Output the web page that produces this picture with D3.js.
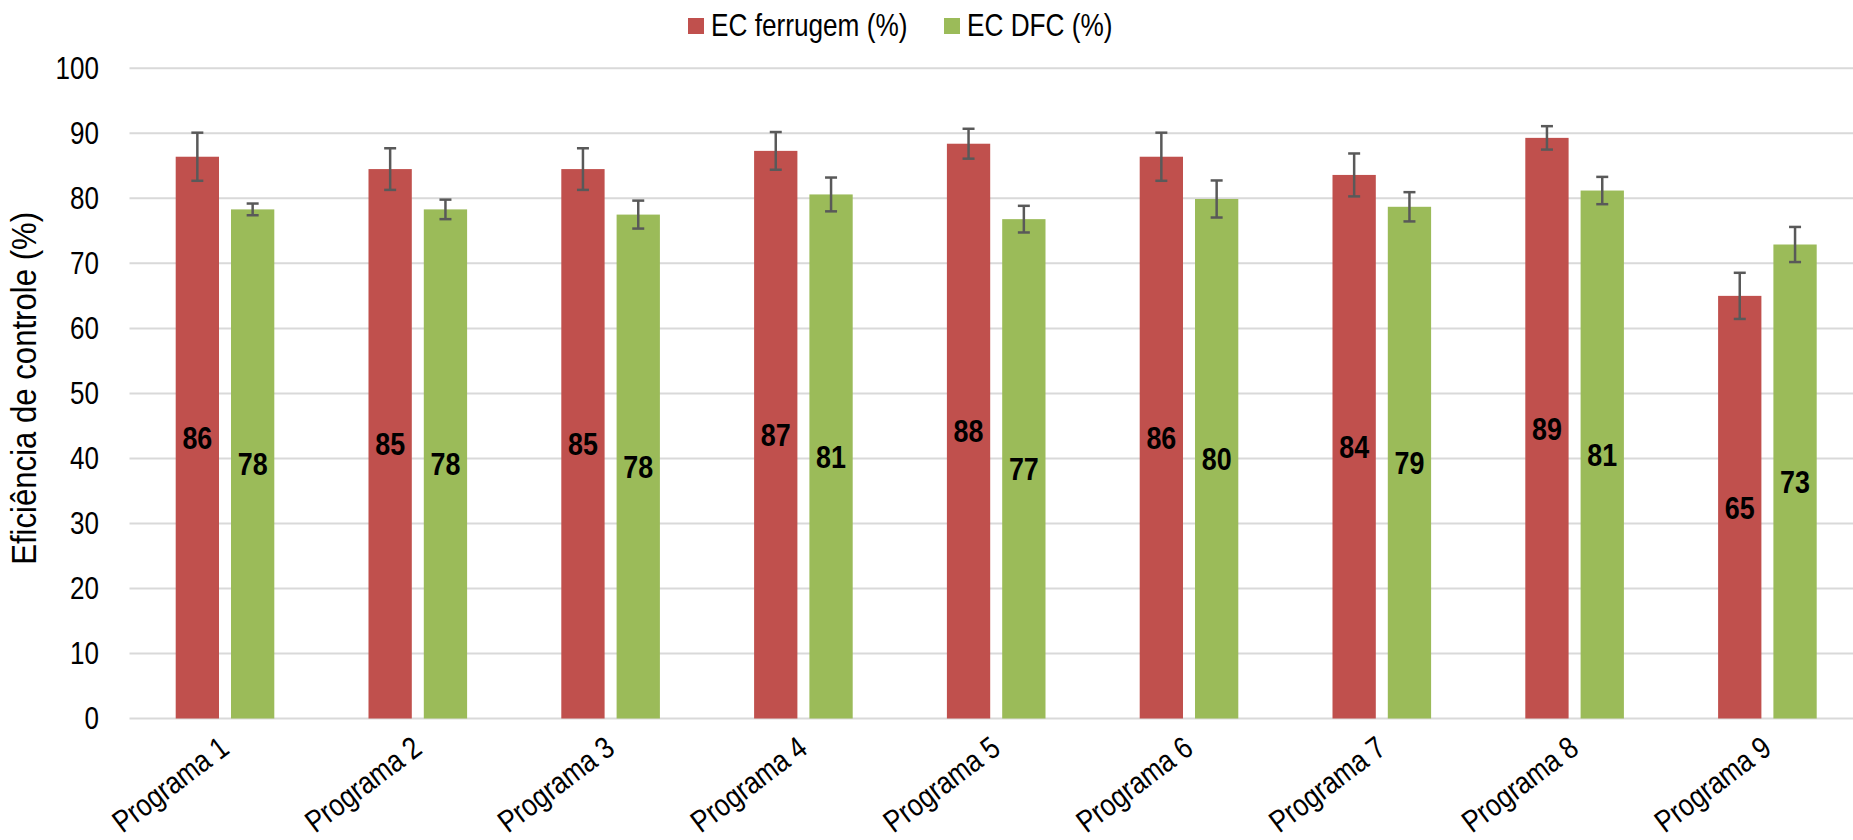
<!DOCTYPE html>
<html><head><meta charset="utf-8">
<script src="https://cdn.jsdelivr.net/npm/d3@7"></script>
<style>
html,body{margin:0;padding:0;background:#fff;}
svg{display:block;}
text{font-family:'Liberation Sans',Arial,sans-serif;fill:#000;}
</style></head>
<body>
<svg id="chart" width="1853" height="840"></svg>
<script>
const categories = ["Programa 1","Programa 2","Programa 3","Programa 4","Programa 5","Programa 6","Programa 7","Programa 8","Programa 9"];
const seriesNames = ["EC ferrugem (%)","EC DFC (%)"];
const ferrugem = [86.4, 84.5, 84.5, 87.3, 88.4, 86.4, 83.6, 89.3, 65.0];
const dfc = [78.3, 78.3, 77.5, 80.6, 76.8, 79.9, 78.7, 81.2, 72.9];
const ferrugemErr = [3.7, 3.2, 3.2, 2.9, 2.3, 3.7, 3.3, 1.8, 3.55];
const dfcErr = [0.9, 1.5, 2.15, 2.6, 2.05, 2.85, 2.25, 2.1, 2.7];
const yTicks = [0,10,20,30,40,50,60,70,80,90,100];
const yTitle = "Eficiência de controle (%)";

const colors = ["#C0504D","#9BBB59"];
const NARROW = 0.84; // horizontal compression to mimic a narrow face
const svg = d3.select("#chart");
const W = 1853, H = 840;
const plotLeft = 129.5, plotTop = 68.3, plotBottom = 718.5;

const x0 = d3.scaleBand().domain(categories).range([128.6, 128.6 + 9*192.8]).padding(0);
const x1 = d3.scaleBand().domain(seriesNames).range([-49.3, 49.3]).paddingInner(0.217).paddingOuter(0);
const y = d3.scaleLinear().domain([0,100]).range([plotBottom, plotTop]);

// gridlines
svg.append("g").selectAll("line").data(yTicks).join("line")
  .attr("x1", plotLeft).attr("x2", W)
  .attr("y1", d=>y(d)).attr("y2", d=>y(d))
  .attr("stroke","#d9d9d9").attr("stroke-width",2);

// y tick labels
svg.append("g").selectAll("text").data(yTicks).join("text")
  .attr("transform", d=>`translate(99,${y(d)}) scale(${NARROW},1)`)
  .attr("text-anchor","end").attr("dominant-baseline","central")
  .attr("font-size",31).text(d=>d);

// y title
svg.append("text")
  .attr("transform", `translate(36,${(plotTop+plotBottom)/2 - 5}) rotate(-90) scale(0.865,1)`)
  .attr("text-anchor","middle").attr("font-size",36).text(yTitle);

const data = categories.map((c,i)=>({cat:c, vals:[
  {s:seriesNames[0], v:ferrugem[i], e:ferrugemErr[i], k:0},
  {s:seriesNames[1], v:dfc[i], e:dfcErr[i], k:1}
]}));

const groups = svg.append("g").selectAll("g").data(data).join("g")
  .attr("transform", d=>`translate(${x0(d.cat)+x0.bandwidth()/2},0)`);

groups.selectAll("rect").data(d=>d.vals).join("rect")
  .attr("x", d=>x1(d.s)).attr("width", x1.bandwidth())
  .attr("y", d=>y(d.v)).attr("height", d=>y(0)-y(d.v))
  .attr("fill", d=>colors[d.k]);

// error bars
const cx = d=>x1(d.s)+x1.bandwidth()/2;
const eb = groups.selectAll("g.err").data(d=>d.vals).join("g").attr("class","err")
  .attr("stroke","#595959").attr("stroke-width",2.5);
eb.append("line").attr("x1", cx).attr("x2", cx)
  .attr("y1", d=>y(d.v+d.e)).attr("y2", d=>y(d.v-d.e));
eb.append("line").attr("x1", d=>cx(d)-6).attr("x2", d=>cx(d)+6)
  .attr("y1", d=>y(d.v+d.e)).attr("y2", d=>y(d.v+d.e));
eb.append("line").attr("x1", d=>cx(d)-6).attr("x2", d=>cx(d)+6)
  .attr("y1", d=>y(d.v-d.e)).attr("y2", d=>y(d.v-d.e));

// value labels
groups.selectAll("text.val").data(d=>d.vals).join("text").attr("class","val")
  .attr("transform", d=>`translate(${cx(d)},${(y(d.v)+y(0))/2}) scale(${NARROW},1)`)
  .attr("text-anchor","middle").attr("dominant-baseline","central")
  .attr("font-size",32).attr("font-weight","bold")
  .text(d=>Math.round(d.v));

// x labels
svg.append("g").selectAll("text").data(categories).join("text")
  .attr("transform", d=>`translate(${x0(d)+x0.bandwidth()/2+6},752) rotate(-37) scale(${NARROW},1)`)
  .attr("text-anchor","end").attr("font-size",31).text(d=>d);

// legend
const legX = [688, 944];
const leg = svg.append("g").selectAll("g").data(seriesNames).join("g")
  .attr("transform",(d,i)=>`translate(${legX[i]},18)`);
leg.append("rect").attr("width",16).attr("height",16).attr("fill",(d,i)=>colors[i]);
leg.append("text").attr("transform",`translate(23,18) scale(0.845,1)`)
  .attr("font-size",31).text(d=>d);
</script>
</body></html>
